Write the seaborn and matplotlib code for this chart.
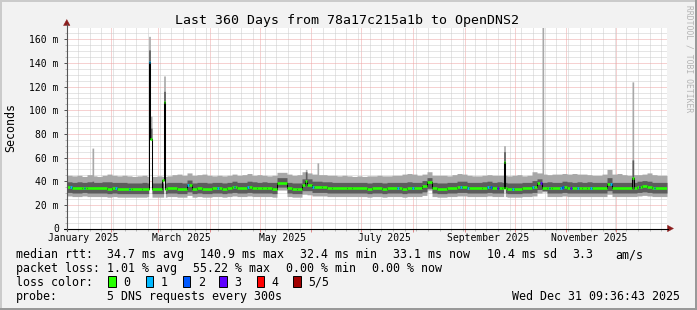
import datetime as dt
import numpy as np
import matplotlib
matplotlib.use("Agg")
import matplotlib.pyplot as plt
import matplotlib.transforms as mtransforms
from matplotlib.patches import Rectangle, Polygon
from matplotlib.lines import Line2D
import seaborn as sns

# ---------------- data (3-day bins, 120 bins over 360 days) ----------------
med_base = [35, 34, 34, 34.5, 34, 34, 34, 34, 33.5, 34,
            33.5, 33.5, 33.5, 33, 33, 33.5, 33.5, 33.5, 33.5, 33.5,
            34, 34, 33.5, 33.5, 37, 33.5, 34, 33.5, 33.5, 34,
            34, 33.5, 34, 35, 34, 34, 35.5, 34.5, 34, 34.5,
            34, 33.5, 38.5, 38.5, 34, 33, 33.5, 37, 37, 35.5,
            35.5, 35, 34.5, 34, 34, 34, 34.5, 34, 34, 34,
            33.5, 34, 34, 33.5, 34, 34, 34, 33.5, 34, 34,
            34, 36, 39.5, 34, 33.5, 33.5, 34, 34, 35, 35,
            34, 34, 34, 34.5, 35, 34, 34.5, 34, 33, 33.5,
            33.5, 34, 34, 35, 38.5, 34, 34.5, 34, 34, 35,
            34.5, 34, 34.5, 34, 34.5, 34, 34, 34, 38, 34,
            34, 34, 34, 34, 35, 36, 35.5, 34, 34, 34]
outer_hi = [45, 44.5, 45, 44, 45.5, 44.5, 44, 45, 46, 45,
            44.5, 45, 44.5, 44, 44.5, 45, 44, 44, 44.5, 44,
            44.5, 45.5, 46, 45, 47, 45, 45.5, 46, 45, 44.5,
            45, 44.5, 45, 46, 45, 45.5, 46.5, 45, 45.5, 45,
            44.5, 45, 47.5, 47.5, 46, 45, 45.5, 48, 47, 46,
            45.5, 45.5, 45, 45, 44.5, 45, 44.5, 44, 44.5, 44,
            44.5, 44.5, 45, 44.5, 44.5, 45, 45, 46, 46.5, 46,
            45, 46, 48, 45, 45, 45, 44.5, 45.5, 46.5, 46,
            45, 44.5, 44.5, 45, 45.5, 45, 45, 45, 44.5, 45,
            45.5, 44.5, 45, 48, 47, 46, 45.5, 46, 46, 46.5,
            46, 46.5, 46, 46, 45.5, 45, 45, 46, 50, 46,
            46.5, 45.5, 45, 45.5, 45.5, 46, 47, 45.5, 45, 45]
inner_hi = [39.5, 39, 39.5, 39, 39.5, 39, 39, 39.5, 39.5, 39,
            39, 39, 38.5, 38.5, 38.5, 39, 38.5, 38.5, 38.5, 38.5,
            39, 39, 39, 38.5, 41, 38.5, 39, 39, 38.5, 39,
            39, 38.5, 39, 40, 39, 39, 40, 39.5, 39, 39.5,
            39, 39, 43, 43, 39, 38.5, 38.5, 42, 42, 40,
            40, 39.5, 39.5, 39, 39, 39, 39, 39, 39, 39,
            38.5, 39, 39, 38.5, 39, 39, 39, 39, 39.5, 39,
            39, 40.5, 43, 39, 38.5, 38.5, 39, 39, 40, 40,
            39, 39, 39, 39.5, 40, 39, 39.5, 39, 38.5, 38.5,
            38.5, 39, 39, 40.5, 42, 39, 39.5, 39, 39, 40,
            39.5, 39, 39.5, 39, 39.5, 39, 39, 39, 43, 39,
            39, 39, 39, 39, 40, 40.5, 40, 39, 39, 39]
inner_lo = [30.5, 30, 30, 30.5, 30, 30, 30, 30, 29.5, 30,
            29.5, 29.5, 29.5, 29.5, 29.5, 29.5, 29.5, 29.5, 29.5, 29.5,
            30, 30, 29.5, 29.5, 31, 29.5, 30, 29.5, 29.5, 30,
            30, 29.5, 30, 30.5, 30, 30, 30.5, 30, 30, 30,
            30, 29.5, 35, 35, 30, 29.5, 29.5, 32, 32, 30.5,
            30.5, 30.5, 30, 30, 30, 30, 30, 30, 30, 30,
            29.5, 30, 30, 29.5, 30, 30, 30, 29.5, 30, 30,
            30, 31, 34, 30, 29.5, 29.5, 30, 30, 30.5, 30.5,
            30, 30, 30, 30, 30.5, 30, 30, 30, 29.5, 29.5,
            29.5, 30, 30, 30.5, 33, 32, 30, 30, 30, 30.5,
            30, 30, 30, 30, 30, 30, 30, 30, 32, 30,
            30, 30, 30, 30, 30.5, 31, 30.5, 30, 30, 30]
outer_lo = [27.5, 27, 27, 27.5, 27, 27, 27, 27, 26.5, 27,
            26.5, 26.5, 26.5, 26.5, 26.5, 26.5, 27, 26.5, 26.5, 26.5,
            27, 27, 26.5, 26.5, 28, 26.5, 27, 26.5, 26.5, 27,
            27, 26.5, 27, 27.5, 27, 27, 27.5, 27, 27, 27,
            27, 26.5, 32.5, 32.5, 27, 26.5, 26.5, 29, 28.5, 27.5,
            27.5, 27.5, 27, 27, 27, 27, 27, 27, 27, 27,
            26.5, 27, 27, 26.5, 27, 27, 27, 26.5, 27, 27,
            27, 28, 32.5, 27, 26.5, 26.5, 27, 27, 27.5, 27.5,
            27, 27, 27, 27, 27.5, 27, 27, 27, 26.5, 26.5,
            26.5, 27, 27, 27.5, 30, 31, 27, 27, 27, 27.5,
            27, 27, 27, 27, 27, 27, 27, 27, 29, 27,
            27, 27, 27, 27, 27.5, 28, 27.5, 27, 27, 27]

# single-day smoke spikes
smoke_spike_day = [15, 49, 50, 58, 143, 150, 262, 285, 339]
smoke_spike_top = [68, 162.5, 95, 129, 50, 55.5, 70, 175, 124]
smoke_spike_dark = [40, 151, 85, 116, 48, 39, 65, 39, 58]
# single-day median spikes
median_spike_day = [49, 50, 57, 58, 143, 262, 339]
median_spike_val = [141, 76, 41, 107, 40, 56.5, 43]
# days with packet loss (number of lost of 5)
loss_day = [2, 10, 29, 37, 49, 72, 90, 100, 108, 147, 198, 207, 236, 240, 252,
            254, 258, 267, 279, 284, 289, 296, 297, 302, 306, 314, 326, 343, 352]
loss_level = [1, 1, 1, 1, 1, 1, 1, 1, 1, 1, 1, 1, 1, 1, 1,
              2, 3, 1, 1, 3, 1, 1, 2, 3, 1, 1, 1, 3, 1]

loss_colors = ["#26ff00", "#00b8ff", "#0059ff", "#5e00ff", "#ff0000", "#a10000"]
loss_labels = ["0", "1", "2", "3", "4", "5/5"]

y_tick_values = [0, 20, 40, 60, 80, 100, 120, 140, 160]
y_tick_labels = ["0", "20 m", "40 m", "60 m", "80 m", "100 m", "120 m", "140 m", "160 m"]
month_label_months = [1, 3, 5, 7, 9, 11]
month_label_text = ["January 2025", "March 2025", "May 2025", "July 2025",
                    "September 2025", "November 2025"]

title = "Last 360 Days from 78a17c215a1b to OpenDNS2"
end_time = dt.datetime(2025, 12, 31, 9, 36, 43)
span_days = 360

# ---------------- derived daily arrays ----------------
med = np.repeat(np.array(med_base, float), 3)
ohi = np.repeat(np.array(outer_hi, float), 3)
ihi = np.repeat(np.array(inner_hi, float), 3)
ilo = np.repeat(np.array(inner_lo, float), 3)
olo = np.repeat(np.array(outer_lo, float), 3)
for d, top, dark in zip(smoke_spike_day, smoke_spike_top, smoke_spike_dark):
    ohi[d] = max(ohi[d], top)
    ihi[d] = max(ihi[d], dark)
for d, v in zip(median_spike_day, median_spike_val):
    med[d] = v
    if v > 50:
        ilo[d] = v
        olo[d] = v
loss = np.zeros(span_days, int)
for d, l in zip(loss_day, loss_level):
    loss[d] = l

start_time = end_time - dt.timedelta(days=span_days)
def tday(t):
    return (t - start_time).total_seconds() / 86400.0

month_starts = [tday(dt.datetime(2025, m, 1)) for m in range(2, 13)]
first_sunday = dt.datetime(2025, 1, 12)
week_lines = []
t = first_sunday
while tday(t) < span_days:
    week_lines.append(tday(t))
    t += dt.timedelta(days=7)
label_pos = [tday(dt.datetime(2025, m, 15)) for m in month_label_months]

# runs of equal median / loss colour -> one horizontal segment each
run_y, run_x0, run_x1, run_c = [], [], [], []
s0 = 0
for d in range(1, span_days + 1):
    if d == span_days or med[d] != med[s0] or loss[d] != loss[s0]:
        run_y.append(med[s0]); run_x0.append(s0); run_x1.append(d)
        run_c.append(loss_colors[loss[s0]])
        s0 = d

# ---------------- drawing ----------------
W, H = 697, 310
BG = "#f2f2f2"
sns.set_theme(style="white")
plt.rcParams["font.family"] = ["DejaVu Sans Mono"]

fig = plt.figure(figsize=(W / 100, H / 100), dpi=100, facecolor=BG)
X0, X1, YB, YT = 67, 667, 228.5, 27.5
ax = fig.add_axes([X0 / W, 1 - YB / H, (X1 - X0) / W, (YB - YT) / H])
ax.set_facecolor("white")
ax.set_xlim(0, span_days)
ax.set_ylim(0, (YB - YT) / 1.1825)

for s in ax.spines.values():
    s.set_visible(False)

edges = np.arange(span_days + 1)
def ext(a):
    return np.append(a, a[-1])

ax.fill_between(edges, ext(olo), ext(ohi), step="post", color="#a8a8a8", lw=0, zorder=2)
ax.fill_between(edges, ext(ilo), ext(ihi), step="post", color="#5c5c5c", lw=0, zorder=3)
ax.hlines(run_y, run_x0, run_x1, colors=run_c, linewidth=1.9, zorder=4)
sns.lineplot(x=edges, y=ext(med), drawstyle="steps-post", color="black",
             linewidth=0.75, ax=ax, estimator=None, legend=False, zorder=3.5)

# grid
ax.set_xticks(month_starts)
ax.set_xticks(week_lines, minor=True)
ax.set_yticks(y_tick_values, labels=y_tick_labels)
ax.set_yticks(np.arange(5, 170, 5), minor=True)
ax.set_xticklabels([])
ax.set_axisbelow(True)
ax.grid(which="minor", color="#cccccc", linestyle=(0, (1, 1)), linewidth=0.72)
ax.grid(which="major", color="#eea4a4", linestyle=(0, (1, 1)), linewidth=0.72)
ax.tick_params(axis="x", which="major", length=2.2, width=0.72, color="#e08a8a",
               direction="out", bottom=True)
ax.tick_params(axis="x", which="minor", length=1.6, width=0.72, color="#bbbbbb",
               direction="out", bottom=True)
ax.tick_params(axis="y", which="major", length=2.5, width=0.72, color="#555555",
               direction="out", left=True, pad=3.4, labelsize=7, labelcolor="black")
ax.tick_params(axis="y", which="minor", length=1.6, width=0.72, color="#bbbbbb",
               direction="out", left=True)
for lab in ax.get_yticklabels():
    lab.set_fontfamily("DejaVu Sans Mono")

xlab_tr = mtransforms.blended_transform_factory(ax.transData, fig.transFigure)
for p, txt in zip(label_pos, month_label_text):
    ax.text(p, 1 - 241 / H, txt, transform=xlab_tr, ha="center", va="baseline",
            fontsize=7, family="DejaVu Sans Mono", color="black", clip_on=False)

def P(x, y):
    return (x / W, 1 - y / H)

tf = fig.transFigure
# axes lines and arrows
fig.add_artist(Line2D([64 / W, 668 / W], [1 - YB / H] * 2, color="black", lw=0.8, transform=tf))
fig.add_artist(Line2D([X0 / W] * 2, [1 - 231 / H, 1 - 24 / H], color="#555555", lw=0.8, transform=tf))
arrow_c = "#8b1c1c"
fig.add_artist(Polygon([P(63.5, 25.5), P(70, 25.5), P(66.8, 19.5)], closed=True,
                       fc=arrow_c, ec=arrow_c, lw=0.3, transform=tf))
fig.add_artist(Polygon([P(667.5, 225.3), P(667.5, 231.7), P(673.5, 228.5)], closed=True,
                       fc=arrow_c, ec=arrow_c, lw=0.3, transform=tf))

def ftext(x, y, s, size=8.4, **kw):
    fig.text(x / W, 1 - y / H, s, transform=tf, family="DejaVu Sans Mono",
             fontsize=size, color=kw.pop("color", "black"), **kw)

ftext(347, 24, title, size=9.5, ha="center", va="baseline")
ftext(11, 128, "Seconds", size=8.4, rotation=90, ha="center", va="center")
ftext(688.5, 5, "RRDTOOL / TOBI OETIKER", size=5.8, rotation=270, ha="center",
      va="top", color="#b4b4b4")

line1 = [("median rtt:", 16), ("34.7 ms avg", 107), ("140.9 ms max", 200),
         ("32.4 ms min", 300), ("33.1 ms now", 393), ("10.4 ms sd", 487),
         ("3.3", 572), ("am/s", 615)]
line2 = [("packet loss:", 16), ("1.01 % avg", 107), ("55.22 % max", 193),
         ("0.00 % min", 286), ("0.00 % now", 372)]
for s, x in line1:
    ftext(x, 258.3, s, va="baseline")
for s, x in line2:
    ftext(x, 272, s, va="baseline")
ftext(16, 285.8, "loss color:", va="baseline")
box_x = [108.3, 145.7, 182.7, 219.3, 256.7, 293.3]
lab_x = [123.3, 161, 197.7, 234.3, 271.7, 308.3]
for bx, lx, c, l in zip(box_x, lab_x, loss_colors, loss_labels):
    fig.add_artist(Rectangle(P(bx, 286.5), 7.5 / W, 11 / H, transform=tf,
                             fc=c, ec="black", lw=0.7))
    ftext(lx, 285.8, l, va="baseline")
ftext(16, 299.6, "probe:", va="baseline")
ftext(107, 299.6, "5 DNS requests every 300s", va="baseline")
ftext(680.5, 299.6, "Wed Dec 31 09:36:43 2025", ha="right", va="baseline")

# 3D frame
fig.add_artist(Rectangle((0, 0), 2 / W, 1, transform=tf, fc="#cbcbcb", lw=0))
fig.add_artist(Rectangle((0, 1 - 2 / H), 1, 2 / H, transform=tf, fc="#cbcbcb", lw=0))
fig.add_artist(Rectangle((1 - 2 / W, 0), 2 / W, 1, transform=tf, fc="#999999", lw=0))
fig.add_artist(Rectangle((0, 0), 1, 2 / H, transform=tf, fc="#999999", lw=0))

fig.savefig("out.png", dpi=100, facecolor=BG)
